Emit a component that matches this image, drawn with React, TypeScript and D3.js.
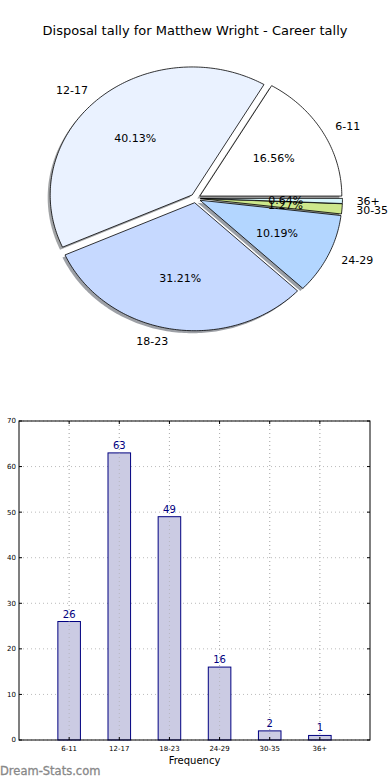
import React from "react";
import * as d3 from "d3";

const categories = ["6-11", "12-17", "18-23", "24-29", "30-35", "36+"];
const counts = [26, 63, 49, 16, 2, 1];
const pieColors = ["#ffffff", "#eaf2ff", "#c6d9ff", "#b3d6ff", "#cde88c", "#d6f6fb"];
const yTicks = [0, 10, 20, 30, 40, 50, 60, 70];

const W = 390;
const H = 780;
const FONT = "DejaVu Sans, Verdana, sans-serif";

export default function App() {
  // Pie geometry
  const cx = 195.5, cy = 198.3, rx = 142, ry = 128, explode = 0.035;
  const total = d3.sum(counts);
  const arcs = d3.pie<number>().sort(null).startAngle(0).endAngle(2 * Math.PI)(counts);
  const pt = (ox: number, oy: number, th: number, f: number): [number, number] => [
    ox + f * rx * Math.cos(th),
    oy - f * ry * Math.sin(th),
  ];
  const wedgePath = (ox: number, oy: number, a0: number, a1: number) => {
    const n = Math.max(4, Math.ceil(((a1 - a0) * 180) / Math.PI));
    const pts: [number, number][] = [[ox, oy]];
    for (let i = 0; i <= n; i++) pts.push(pt(ox, oy, a0 + ((a1 - a0) * i) / n, 1));
    return d3.line()(pts) + "Z";
  };
  const wedges = arcs.map((a, i) => {
    const mid = (a.startAngle + a.endAngle) / 2;
    const ox = cx + explode * rx * Math.cos(mid);
    const oy = cy - explode * ry * Math.sin(mid);
    return { i, a0: a.startAngle, a1: a.endAngle, mid, ox, oy };
  });

  // Bar geometry
  const left = 19, right = 370, top = 421, bottom = 740;
  const x = d3.scaleLinear().domain([0, categories.length + 1]).range([left, right]);
  const y = d3.scaleLinear().domain([0, 70]).range([bottom, top]);
  const bw = (x(1) - x(0)) * 0.45;

  const shadowColor = (c: string) => {
    const r = d3.rgb(c);
    return d3.rgb(r.r * 0.3, r.g * 0.3, r.b * 0.3).toString();
  };

  return (
    <svg width={W} height={H} style={{ position: "absolute", left: 0, top: 0, background: "#fff" }}>
      <rect x={0} y={0} width={W} height={H} fill="#fff" />
      <text x={195} y={35} textAnchor="middle" fontFamily={FONT} fontSize={13} fill="#000">
        Disposal tally for Matthew Wright - Career tally
      </text>
      {/* shadows */}
      {wedges.map((w) => (
        <path
          key={"s" + w.i}
          d={wedgePath(w.ox - 2.5, w.oy + 2.5, w.a0, w.a1)}
          fill={shadowColor(pieColors[w.i])}
          opacity={0.5}
        />
      ))}
      {wedges.map((w) => (
        <path
          key={"w" + w.i}
          d={wedgePath(w.ox, w.oy, w.a0, w.a1)}
          fill={pieColors[w.i]}
          stroke="#000"
          strokeWidth={0.8}
          strokeLinejoin="round"
        />
      ))}
      {wedges.map((w) => {
        const [lx, ly] = pt(w.ox, w.oy, w.mid, 1.1);
        const [px, py] = pt(w.ox, w.oy, w.mid, 0.6);
        return (
          <g key={"l" + w.i} fontFamily={FONT} fontSize={11} fill="#000">
            <text x={lx} y={ly} dy="0.35em" textAnchor={Math.cos(w.mid) > 0 ? "start" : "end"}>
              {categories[w.i]}
            </text>
            <text x={px} y={py} dy="0.35em" textAnchor="middle">
              {((counts[w.i] / total) * 100).toFixed(2) + "%"}
            </text>
          </g>
        );
      })}

      {/* Bar chart */}
      <g>
        {yTicks.map((t) => (
          <line key={"gy" + t} x1={left} x2={right} y1={y(t)} y2={y(t)} stroke="#bbb" strokeWidth={1} strokeDasharray="1,3" />
        ))}
        {categories.map((c, i) => (
          <line key={"gx" + c} x1={x(i + 1)} x2={x(i + 1)} y1={top} y2={bottom} stroke="#bbb" strokeWidth={1} strokeDasharray="1,3" />
        ))}
        {counts.map((v, i) => (
          <rect
            key={"b" + i}
            x={x(i + 1) - bw / 2}
            y={y(v)}
            width={bw}
            height={y(0) - y(v)}
            fill="#cbcbe3"
            stroke="#000080"
            strokeWidth={1}
          />
        ))}
        {categories.map((c, i) => (
          <line key={"gx2" + c} x1={x(i + 1)} x2={x(i + 1)} y1={top} y2={bottom} stroke="#aaa" strokeWidth={1} strokeDasharray="1,3" opacity={0.6} />
        ))}
        {counts.map((v, i) => (
          <text key={"v" + i} x={x(i + 1)} y={y(v) - 4} textAnchor="middle" fontFamily={FONT} fontSize={10} fill="#000080">
            {v}
          </text>
        ))}
        <rect x={left} y={top} width={right - left} height={bottom - top} fill="none" stroke="#000" strokeWidth={1} />
        {yTicks.map((t) => (
          <g key={"ty" + t}>
            <line x1={left} x2={left + 3} y1={y(t)} y2={y(t)} stroke="#000" />
            <line x1={right - 3} x2={right} y1={y(t)} y2={y(t)} stroke="#000" />
            <text x={left - 3} y={y(t)} dy="0.35em" textAnchor="end" fontFamily={FONT} fontSize={7} fill="#000">
              {t}
            </text>
          </g>
        ))}
        {categories.map((c, i) => (
          <g key={"tx" + c}>
            <line x1={x(i + 1)} x2={x(i + 1)} y1={bottom} y2={bottom - 3} stroke="#000" />
            <line x1={x(i + 1)} x2={x(i + 1)} y1={top} y2={top + 3} stroke="#000" />
            <text x={x(i + 1)} y={bottom + 11} textAnchor="middle" fontFamily={FONT} fontSize={7} fill="#000">
              {c}
            </text>
          </g>
        ))}
        <text x={(left + right) / 2} y={764} textAnchor="middle" fontFamily={FONT} fontSize={10} fill="#000">
          Frequency
        </text>
      </g>
      <text x={0} y={775} fontFamily={FONT} fontSize={11.5} fill="#888" stroke="#888" strokeWidth={0.3}>
        Dream-Stats.com
      </text>
    </svg>
  );
}
